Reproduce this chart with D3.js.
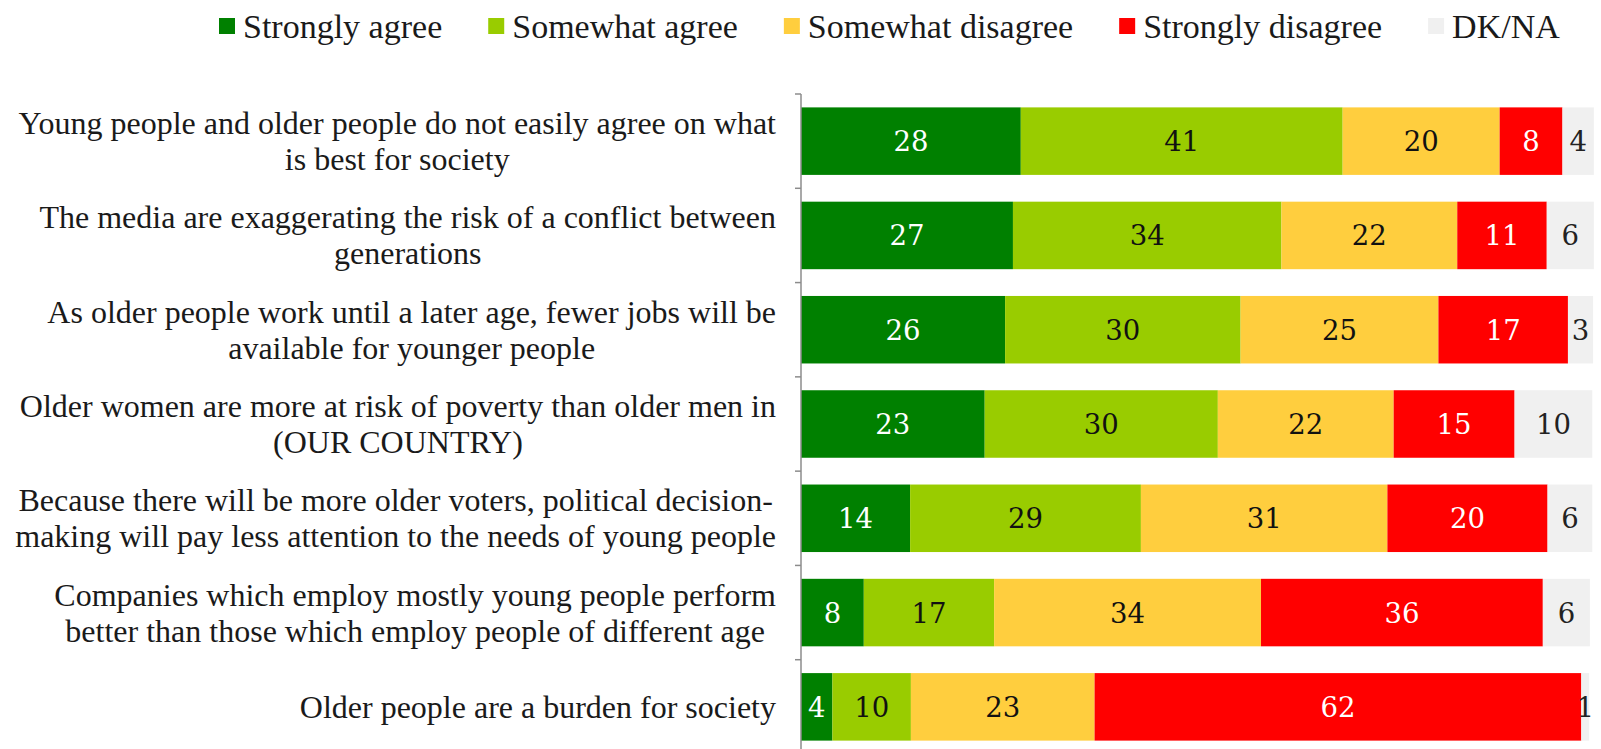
<!DOCTYPE html>
<html><head><meta charset="utf-8">
<script src="https://cdn.jsdelivr.net/npm/d3@7"></script>
<style>body{margin:0;background:#fff}svg{display:block}</style>
</head><body>
<svg id="c" width="1601" height="749"></svg>
<script>
const categories = [
  ["Young people and older people do not easily agree on what","is best for society"],
  ["The media are exaggerating the risk of a conflict between","generations"],
  ["As older people work until a later age, fewer jobs will be","available for younger people"],
  ["Older women are more at risk of poverty than older men in","(OUR COUNTRY)"],
  ["Because there will be more older voters, political decision-","making will pay less attention to the needs of young people"],
  ["Companies which employ mostly young people perform","better than those which employ people of different age"],
  ["Older people are a burden for society"]
];
const seriesNames = ["Strongly agree","Somewhat agree","Somewhat disagree","Strongly disagree","DK/NA"];
// values (labels shown rounded)
const stronglyAgree    = [28, 27, 26, 23.4, 13.9, 8, 4];
const somewhatAgree    = [41, 34.2, 30, 29.7, 29.4, 16.6, 10];
const somewhatDisagree = [20, 22.4, 25.2, 22.4, 31.4, 34, 23.4];
const stronglyDisagree = [8, 11.4, 16.5, 15.4, 20.4, 35.9, 62];
const dkna             = [4, 6, 3.2, 9.9, 5.7, 6, 1];

const colors = ["#008000","#99CC00","#FFCE3E","#FF0000","#F0F0F0"];
const textColors = ["#fff","#111","#111","#fff","#222"];
const series = [stronglyAgree,somewhatAgree,somewhatDisagree,stronglyDisagree,dkna];

const svg = d3.select("#c");
const ids = categories.map((c,i)=>"c"+i);
const x = d3.scaleLinear().domain([0,100]).range([801,1586]);
const y = d3.scaleBand().domain(ids).range([94,754]).paddingInner(0.284).paddingOuter(0.142);

const rows = ids.map((id,i)=>{
  let acc=0;
  return series.map((s,k)=>{const v=s[i]; const r={id,k,v,x0:acc,x1:acc+v}; acc+=v; return r;});
});

const g = svg.append("g");
rows.forEach(r=>{
  g.selectAll(null).data(r).enter().append("rect")
    .attr("x",d=>x(d.x0)).attr("width",d=>x(d.x1)-x(d.x0))
    .attr("y",d=>y(d.id)).attr("height",y.bandwidth())
    .attr("fill",d=>colors[d.k]);
  g.selectAll(null).data(r).enter().append("text")
    .attr("x",d=>(x(d.x0)+x(d.x1))/2).attr("y",d=>y(d.id)+y.bandwidth()/2)
    .attr("text-anchor","middle").attr("dominant-baseline","central")
    .attr("font-family","'DejaVu Serif', serif").attr("font-size",27.5)
    .attr("fill",d=>textColors[d.k]).text(d=>Math.round(d.v));
});

// axis
const step = y.step();
const ax = svg.append("g").attr("stroke","#8c8c8c").attr("stroke-width",1.5);
ax.append("line").attr("x1",x(0)).attr("x2",x(0)).attr("y1",y.range()[0]).attr("y2",y.range()[1]);
ids.forEach(id=>{
  const ty = y(id) - step*y.paddingInner()/2;
  ax.append("line").attr("x1",x(0)-6).attr("x2",x(0)).attr("y1",ty).attr("y2",ty);
});

// category labels
const lab = svg.append("g").attr("font-family","'Liberation Serif', serif").attr("font-size",32).attr("fill","#1a1a1a");
const right = 776, lh = 36;
categories.forEach((lines,i)=>{
  const cy = y(ids[i]) + y.bandwidth()/2;
  const t = lab.append("text").attr("text-anchor","middle").attr("dominant-baseline","central");
  const spans = lines.map((l,j)=>t.append("tspan").attr("y",cy + (j-(lines.length-1)/2)*lh).text(l));
  const w = d3.max(spans,s=>s.node().getComputedTextLength());
  spans.forEach(s=>s.attr("x",right-w/2));
});

// legend
const leg = svg.append("g").attr("font-family","'Liberation Serif', serif").attr("font-size",34).attr("fill","#1a1a1a");
let lx = 219; const ly = 26, sq = 16;
seriesNames.forEach((n,k)=>{
  leg.append("rect").attr("x",lx).attr("y",ly-sq/2).attr("width",sq).attr("height",sq).attr("fill",colors[k]);
  const t = leg.append("text").attr("x",lx+sq+8).attr("y",ly).attr("dominant-baseline","central").text(n);
  lx += sq+8+t.node().getComputedTextLength()+46;
});
</script>
</body></html>
